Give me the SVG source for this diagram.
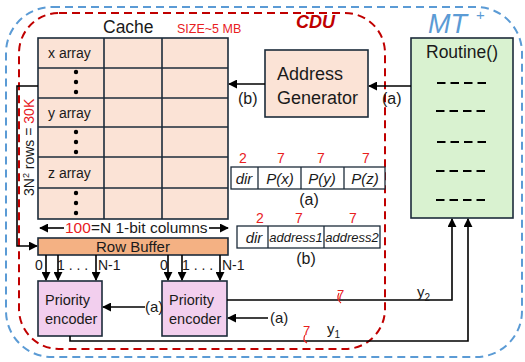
<svg xmlns="http://www.w3.org/2000/svg" width="525" height="362" viewBox="0 0 525 362">
<defs>
<marker id="ah" viewBox="0 0 10 10" refX="9" refY="5" markerWidth="9" markerHeight="9" markerUnits="userSpaceOnUse" orient="auto-start-reverse">
<path d="M0,0 L10,5 L0,10 z" fill="#000"/>
</marker>
<style>
text{font-family:"Liberation Sans",Arial,sans-serif;fill:#1a1a1a}
.box{stroke:#1c2b3a;stroke-width:1.6}
.cell{fill:#fbe3d6;stroke:#1c2b3a;stroke-width:1.6}
.wire{fill:none;stroke:#000;stroke-width:1.6}
.red{fill:#e8201e}
.fld{fill:#fff;stroke:#1c2b3a;stroke-width:1.3}
.it{font-style:italic}
.dash{stroke:#000;stroke-width:2;stroke-dasharray:8.5 5}
</style>
</defs>

<g id="mt-boundary">
<rect x="6" y="7" width="516" height="350" rx="46" fill="none" stroke="#5b9bd5" stroke-width="2" stroke-dasharray="8 5"/>
<text x="428" y="33" font-size="27" font-style="italic" style="fill:#5b9bd5">MT</text>
<text x="476" y="20" font-size="15" style="fill:#5b9bd5">+</text>
</g>

<g id="cdu-boundary">
<rect x="19" y="13" width="366" height="336" rx="40" fill="none" stroke="#c00000" stroke-width="2" stroke-dasharray="8 5"/>
<text x="296" y="28" font-size="18" font-weight="bold" font-style="italic" style="fill:#c00000">CDU</text>
</g>

<g id="cache">
<text x="103" y="33" font-size="17.5">Cache</text>
<text x="177" y="33" font-size="12.5" class="red">SIZE~5 MB</text>
<rect class="cell" x="38" y="38" width="190" height="181"/>
<g stroke="#1c2b3a" stroke-width="1.6">
<line x1="104" y1="38" x2="104" y2="219"/>
<line x1="162" y1="38" x2="162" y2="219"/>
<line x1="38" y1="68" x2="228" y2="68"/>
<line x1="38" y1="98" x2="228" y2="98"/>
<line x1="38" y1="127" x2="228" y2="127"/>
<line x1="38" y1="157" x2="228" y2="157"/>
<line x1="38" y1="188" x2="228" y2="188"/>
</g>
<text x="48" y="58" font-size="14">x array</text>
<text x="48" y="118" font-size="14">y array</text>
<text x="48" y="178" font-size="14">z array</text>
<g fill="#000">
<circle cx="76" cy="72" r="2.2"/><circle cx="76" cy="82" r="2.2"/><circle cx="76" cy="92" r="2.2"/>
<circle cx="76" cy="132" r="2.2"/><circle cx="76" cy="142" r="2.2"/><circle cx="76" cy="152" r="2.2"/>
<circle cx="76" cy="193" r="2.2"/><circle cx="76" cy="203" r="2.2"/><circle cx="76" cy="213" r="2.2"/>
</g>
<line class="wire" x1="64" y1="228" x2="40" y2="228" marker-end="url(#ah)"/>
<line class="wire" x1="209" y1="228" x2="228" y2="228" marker-end="url(#ah)"/>
<text x="65" y="233" font-size="15.5"><tspan class="red">100</tspan>=N 1-bit columns</text>
<text transform="translate(34,196) rotate(-90)" font-size="14">3N<tspan font-size="9" dy="-5">2</tspan><tspan dy="5"> rows = </tspan><tspan class="red">30K</tspan></text>
</g>

<g id="row-buffer">
<rect class="box" x="38" y="238" width="190" height="17" fill="#f4b183"/>
<text x="133" y="252" font-size="15" text-anchor="middle">Row Buffer</text>
<text x="35" y="270" font-size="14">0</text>
<text x="57" y="270" font-size="14">1 . . .</text>
<text x="98" y="270" font-size="14">N-1</text>
<text x="160" y="270" font-size="14">0</text>
<text x="182" y="270" font-size="14">1 . . .</text>
<text x="222" y="270" font-size="14">N-1</text>
</g>

<g id="address-generator">
<rect class="cell" x="265" y="50" width="103" height="67"/>
<text x="277" y="80" font-size="18">Address</text>
<text x="277" y="104" font-size="18">Generator</text>
</g>

<g id="routine">
<rect class="box" x="411" y="38" width="102" height="180" fill="#d9f2d0"/>
<text x="462" y="58" font-size="17.5" text-anchor="middle">Routine()</text>
<line class="dash" x1="437" y1="83" x2="487" y2="83"/>
<line class="dash" x1="436" y1="111" x2="486" y2="111"/>
<line class="dash" x1="437" y1="142" x2="487" y2="142"/>
<line class="dash" x1="436" y1="171" x2="486" y2="171"/>
<line class="dash" x1="436" y1="200" x2="486" y2="200"/>
</g>

<g id="priority-encoder-1">
<rect class="box" x="38" y="281" width="64" height="55" fill="#f2cfee"/>
<text x="45" y="305" font-size="14.5">Priority</text>
<text x="45" y="324" font-size="14.5">encoder</text>
</g>

<g id="priority-encoder-2">
<rect class="box" x="162" y="281" width="65" height="55" fill="#f2cfee"/>
<text x="169" y="305" font-size="14.5">Priority</text>
<text x="169" y="324" font-size="14.5">encoder</text>
</g>

<g id="format-a">
<rect class="fld" x="231" y="167" width="154" height="22"/>
<line stroke="#1c2b3a" stroke-width="1.3" x1="258" y1="167" x2="258" y2="189"/>
<line stroke="#1c2b3a" stroke-width="1.3" x1="301" y1="167" x2="301" y2="189"/>
<line stroke="#1c2b3a" stroke-width="1.3" x1="344" y1="167" x2="344" y2="189"/>
<text class="it" x="244" y="184" font-size="15" text-anchor="middle">dir</text>
<text class="it" x="280" y="184" font-size="15" text-anchor="middle">P(x)</text>
<text class="it" x="322" y="184" font-size="15" text-anchor="middle">P(y)</text>
<text class="it" x="365" y="184" font-size="15" text-anchor="middle">P(z)</text>
<text class="red" x="243" y="163" font-size="14" text-anchor="middle">2</text>
<text class="red" x="281" y="163" font-size="14" text-anchor="middle">7</text>
<text class="red" x="321" y="163" font-size="14" text-anchor="middle">7</text>
<text class="red" x="366" y="163" font-size="14" text-anchor="middle">7</text>
<text x="309" y="205" font-size="16" text-anchor="middle">(a)</text>
</g>

<g id="format-b">
<rect class="fld" x="237" y="226" width="143" height="22"/>
<line stroke="#1c2b3a" stroke-width="1.3" x1="268" y1="226" x2="268" y2="248"/>
<line stroke="#1c2b3a" stroke-width="1.3" x1="324" y1="226" x2="324" y2="248"/>
<text class="it" x="254" y="243" font-size="15" text-anchor="middle">dir</text>
<text class="it" x="296" y="242" font-size="13" text-anchor="middle">address1</text>
<text class="it" x="352" y="242" font-size="13" text-anchor="middle">address2</text>
<text class="red" x="260" y="223" font-size="14" text-anchor="middle">2</text>
<text class="red" x="299" y="223" font-size="14" text-anchor="middle">7</text>
<text class="red" x="353" y="223" font-size="14" text-anchor="middle">7</text>
<text x="306" y="264" font-size="16" text-anchor="middle">(b)</text>
</g>

<g id="connectors">
<line class="wire" x1="411" y1="86" x2="369" y2="86" marker-end="url(#ah)"/>
<text x="382" y="104" font-size="16">(a)</text>
<line class="wire" x1="265" y1="84" x2="229" y2="84" marker-end="url(#ah)"/>
<text x="238" y="104" font-size="16">(b)</text>
<polyline class="wire" points="38,86 17,86 17,246 37,246" marker-end="url(#ah)"/>
<line class="wire" x1="46" y1="255" x2="46" y2="280" marker-end="url(#ah)"/>
<line class="wire" x1="58" y1="255" x2="58" y2="280" marker-end="url(#ah)"/>
<line class="wire" x1="96" y1="255" x2="96" y2="280" marker-end="url(#ah)"/>
<line class="wire" x1="168" y1="255" x2="168" y2="280" marker-end="url(#ah)"/>
<line class="wire" x1="182" y1="255" x2="182" y2="280" marker-end="url(#ah)"/>
<line class="wire" x1="220" y1="255" x2="220" y2="280" marker-end="url(#ah)"/>
<line class="wire" x1="145" y1="307" x2="103" y2="307" marker-end="url(#ah)"/>
<text x="145" y="312" font-size="15">(a)</text>
<line class="wire" x1="268" y1="318" x2="228" y2="318" marker-end="url(#ah)"/>
<text x="270" y="323" font-size="15">(a)</text>
<polyline class="wire" points="227,300 452,300 452,219" marker-end="url(#ah)"/>
<polyline class="wire" points="70,336 70,341 468,341 468,219" marker-end="url(#ah)"/>
<text x="417" y="297" font-size="15">y<tspan font-size="10" dy="4">2</tspan></text>
<text x="327" y="334" font-size="15">y<tspan font-size="10" dy="4">1</tspan></text>
<text class="red" x="337" y="299" font-size="13">7</text>
<path d="M339,293 q-3,6 2,10" fill="none" stroke="#e8201e" stroke-width="1.2"/>
<text class="red" x="303" y="335" font-size="13">7</text>
<path d="M305,335 q-3,5 2,8" fill="none" stroke="#e8201e" stroke-width="1.2"/>
</g>
</svg>
